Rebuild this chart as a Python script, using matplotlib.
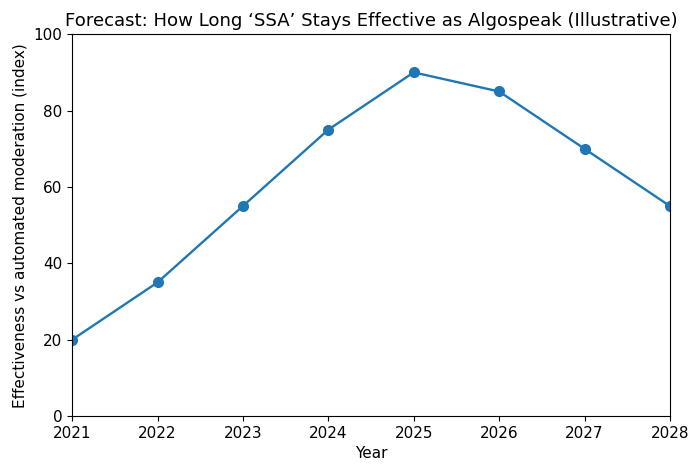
import matplotlib
matplotlib.use("Agg")
import matplotlib.pyplot as plt

years = [2021, 2022, 2023, 2024, 2025, 2026, 2027, 2028]
effectiveness = [20, 35, 55, 75, 90, 85, 70, 55]

plt.rcParams['font.size'] = 11
fig = plt.figure(figsize=(7, 4.75), dpi=100)
ax = fig.add_axes([0.103, 0.124, 0.854, 0.804])
ax.plot(years, effectiveness, marker='o', color='#1f77b4', linewidth=1.7, markersize=7)
ax.set_xlim(2021, 2028)
ax.set_ylim(0, 100)
ax.set_xticks(years)
ax.set_title("Forecast: How Long \u2018SSA\u2019 Stays Effective as Algospeak (Illustrative)", fontsize=13.1)
ax.set_xlabel("Year")
ax.set_ylabel("Effectiveness vs automated moderation (index)")
fig.savefig("out.png", dpi=100)
